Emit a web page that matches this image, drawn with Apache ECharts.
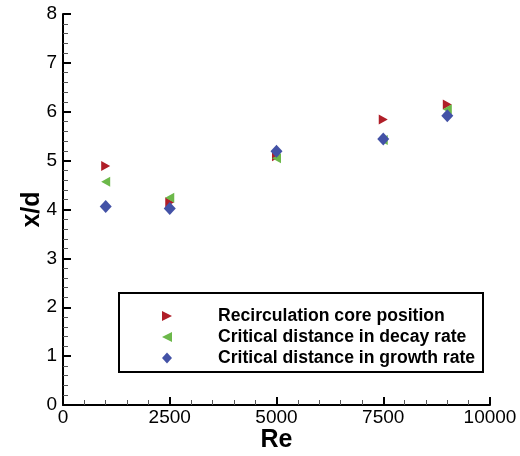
<!DOCTYPE html>
<html><head><meta charset="utf-8">
<script src="https://cdn.jsdelivr.net/npm/echarts@6/dist/echarts.min.js"></script>
<style>html,body{margin:0;padding:0;background:#fff}#c{width:520px;height:456px}</style>
</head><body><div id="c"></div>
<script>
const reynolds = [1000, 2500, 5000, 7500, 9000];
const coreName = 'Recirculation core position';
const decayName = 'Critical distance in decay rate';
const growthName = 'Critical distance in growth rate';
const coreVals = [4.89, 4.15, 5.09, 5.84, 6.15];
const decayVals = [4.57, 4.24, 5.05, 5.42, 6.05];
const growthVals = [4.06, 4.02, 5.19, 5.44, 5.92];

const pairs = v => reynolds.map((r, i) => [r, v[i]]);
const font = 'Liberation Sans, Arial, Helvetica, sans-serif';
const RED = '#B01E28', GREEN = '#6CB84A', BLUE = '#4352A6';
const RIGHT_TRI = 'path://M0,0L10,5L0,10Z';
const LEFT_TRI = 'path://M10,0L0,5L10,10Z';
const chart = echarts.init(document.getElementById('c'), null, {renderer: 'canvas'});
chart.setOption({
  animation: false,
  backgroundColor: '#fff',
  grid: {left: 63, right: 30, top: 14, bottom: 51, outerBoundsMode: 'none', containLabel: false},
  xAxis: {
    type: 'value', min: 0, max: 10000, interval: 2500,
    name: 'Re', nameLocation: 'middle', nameGap: 23, nameMoveOverlap: false,
    nameTextStyle: {fontFamily: font, fontWeight: 'bold', fontSize: 25, color: '#000'},
    axisLine: {onZero: false, lineStyle: {color: '#000', width: 2}},
    axisTick: {inside: true, length: 8, lineStyle: {color: '#000', width: 2}},
    minorTick: {show: true, splitNumber: 5, length: 5, lineStyle: {color: '#555', width: 1}},
    axisLabel: {fontFamily: font, fontSize: 19, color: '#000', margin: 3, formatter: v => String(v)},
    splitLine: {show: false}
  },
  yAxis: {
    type: 'value', min: 0, max: 8, interval: 1,
    name: 'x/d', nameLocation: 'middle', nameGap: 18, nameMoveOverlap: false,
    nameTextStyle: {fontFamily: font, fontWeight: 'bold', fontSize: 25, color: '#000'},
    axisLine: {onZero: false, lineStyle: {color: '#000', width: 2}},
    axisTick: {inside: true, length: 8, lineStyle: {color: '#000', width: 2}},
    minorTick: {show: true, splitNumber: 5, length: 5, lineStyle: {color: '#555', width: 1}},
    axisLabel: {fontFamily: font, fontSize: 19, color: '#000', margin: 6},
    splitLine: {show: false}
  },
  graphic: [{
    type: 'rect', left: 118, top: 292, z: 5,
    shape: {width: 364, height: 79},
    style: {fill: '#fff', stroke: '#000', lineWidth: 2}
  }],
  legend: {
    orient: 'vertical', left: 162, top: 307, z: 10, padding: 0,
    itemGap: 3, itemWidth: 10, itemHeight: 11,
    textStyle: {fontFamily: font, fontWeight: 'bold', fontSize: 17.6, lineHeight: 16, color: '#000', padding: [0, 0, 0, 41]},
    data: [
      {name: coreName, icon: RIGHT_TRI, itemStyle: {color: RED, opacity: 1}},
      {name: decayName, icon: LEFT_TRI, itemStyle: {color: GREEN, opacity: 1}},
      {name: growthName, icon: 'diamond', itemStyle: {color: BLUE, opacity: 1}}
    ]
  },
  series: [
    {name: coreName, type: 'scatter', data: pairs(coreVals), symbol: 'triangle', symbolRotate: -90,
     symbolSize: [10, 9], itemStyle: {color: RED, opacity: 1}, z: 3},
    {name: decayName, type: 'scatter', data: pairs(decayVals), symbol: 'triangle', symbolRotate: 90,
     symbolSize: [10, 9], itemStyle: {color: GREEN, opacity: 1}, z: 4},
    {name: growthName, type: 'scatter', data: pairs(growthVals), symbol: 'diamond',
     symbolSize: [12, 13], itemStyle: {color: BLUE, opacity: 1}, z: 5}
  ]
});
</script></body></html>
